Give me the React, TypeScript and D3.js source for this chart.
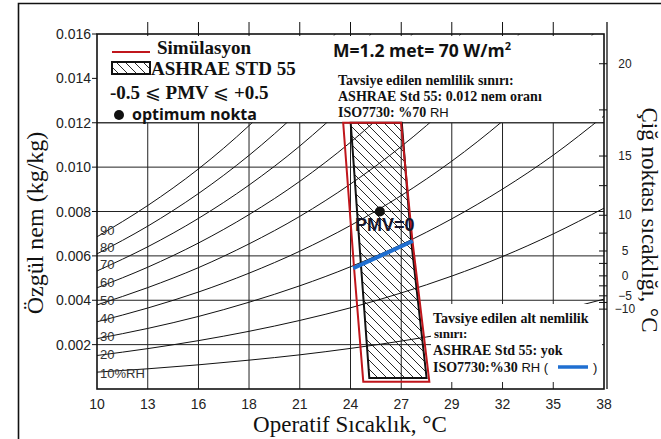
import React from 'react';
import * as d3 from 'd3';

// ---------- data ----------
const tempGrid = [10, 12.78, 15.56, 18.33, 21.11, 23.89, 26.67, 29.44, 32.22, 35, 37.78];
const xTickLabels = ['10', '13', '16', '18', '21', '24', '27', '29', '32', '35', '38'];
const yTicks = [0.002, 0.004, 0.006, 0.008, 0.01, 0.012, 0.014, 0.016];
const yTickLabels = ['0.002', '0.004', '0.006', '0.008', '0.010', '0.012', '0.014', '0.016'];

const rhLevels = ['10%RH', '20', '30', '40', '50', '60', '70', '80', '90'];
const rh10 = [0.00076, 0.00091, 0.00109, 0.0013, 0.00154, 0.00183, 0.00216, 0.00254, 0.00297, 0.00347, 0.00405];
const rh20 = [0.00151, 0.00182, 0.00218, 0.0026, 0.00309, 0.00366, 0.00433, 0.00509, 0.00597, 0.00699, 0.00815];
const rh30 = [0.00227, 0.00273, 0.00327, 0.00391, 0.00465, 0.00551, 0.00651, 0.00767, 0.00901, 0.01054, 0.01231];
const rh40 = [0.00303, 0.00365, 0.00437, 0.00522, 0.00621, 0.00737, 0.00872, 0.01027, 0.01207, 0.01413, 0.01652];
const rh50 = [0.00379, 0.00457, 0.00547, 0.00654, 0.00778, 0.00924, 0.01093, 0.01289, 0.01516, 0.01777];
const rh60 = [0.00456, 0.00549, 0.00658, 0.00786, 0.00936, 0.01112, 0.01316, 0.01553, 0.01827];
const rh70 = [0.00532, 0.00641, 0.00769, 0.00919, 0.01095, 0.01301, 0.01541, 0.01819];
const rh80 = [0.00609, 0.00734, 0.00881, 0.01053, 0.01255, 0.01492, 0.01768];
const rh90 = [0.00686, 0.00827, 0.00992, 0.01187, 0.01415, 0.01683];
const rhSeries = [rh10, rh20, rh30, rh40, rh50, rh60, rh70, rh80, rh90];
const rhLabelW = [0.00072, 0.00155, 0.00238, 0.00318, 0.00398, 0.0048, 0.00559, 0.00636, 0.00714];

const dewLabels = [20, 15, 10, 5, 0, -5, -10];
const dewW = [0.01466, 0.0105, 0.00783, 0.00622, 0.0051, 0.0042, 0.0036];
const dewMinor = [17.5, 12.5, 7.5, 2.5, -2.5, -7.5];

// comfort zones
const simT = [23.49, 24.08, 24.59, 28.21, 27.28, 26.66];
const simW = [0.012, 0.00551, 0.00033, 0.00033, 0.00671, 0.012];
const ashT = [23.9, 24.47, 24.92, 28.06, 27.21, 26.7];
const ashW = [0.012, 0.00551, 0.0005, 0.0005, 0.00671, 0.012];
const isoT = [24.04, 27.3];
const isoW = [0.00544, 0.00667];
const optT = [25.5];
const optW = [0.008];

const serif = "'Liberation Serif', 'Times New Roman', serif";
const sans = "'Liberation Sans', Arial, sans-serif";
const calib = "'Open Sans', 'Noto Sans', sans-serif";

export default function App() {
  const x = d3.scaleLinear().domain([10, 37.78]).range([97, 604]);
  const y = d3.scaleLinear().domain([0, 0.016]).range([389, 34]);
  const dew = d3.scaleLinear().domain(dewLabels).range(dewW);
  const curve = d3
    .line<[number, number]>()
    .x((d) => x(d[0]))
    .y((d) => y(d[1]))
    .curve(d3.curveMonotoneX);
  const poly = d3
    .line<[number, number]>()
    .x((d) => x(d[0]))
    .y((d) => y(d[1]))
    .curve(d3.curveLinearClosed);
  const seg = d3
    .line<[number, number]>()
    .x((d) => x(d[0]))
    .y((d) => y(d[1]));

  const [x0, x1] = x.range();
  const [yb, yt] = y.range();

  const simPts = simT.map((t, i) => [t, simW[i]] as [number, number]);
  const ashPts = ashT.map((t, i) => [t, ashW[i]] as [number, number]);
  const isoPts = isoT.map((t, i) => [t, isoW[i]] as [number, number]);

  return (
    <svg
      width={661}
      height={439}
      style={{ position: 'absolute', left: 0, top: 0, background: '#fff' }}
      xmlns="http://www.w3.org/2000/svg"
    >
      <defs>
        <clipPath id="plotClip">
          <rect x={x0} y={yt} width={x1 - x0} height={yb - yt} />
        </clipPath>
        <pattern id="hatch" width={9} height={9} patternUnits="userSpaceOnUse">
          <path
            d="M-1,-1 L10,10 M-3.25,5.75 L1.25,10.25 M5.75,-3.25 L10.25,1.25"
            stroke="#111"
            strokeWidth={0.9}
          />
        </pattern>
      </defs>
      <rect x={0} y={0} width={661} height={439} fill="#fff" />

      {/* outer frame */}
      <path d="M18.5,439 V3.5 H661" fill="none" stroke="#111" strokeWidth={1.6} />

      {/* grid */}
      <g stroke="#222" strokeWidth={1}>
        {tempGrid.slice(1, -1).map((t, i) => (
          <line key={'vg' + i} x1={x(t)} x2={x(t)} y1={y(0.012)} y2={yb} />
        ))}
        {yTicks.slice(0, 6).map((w, i) => (
          <line key={'hg' + i} x1={x0} x2={x1} y1={y(w)} y2={y(w)} />
        ))}
      </g>

      {/* RH curves */}
      <g clipPath="url(#plotClip)" fill="none" stroke="#111" strokeWidth={1}>
        {rhSeries.map((s, i) => (
          <path key={'rh' + i} d={curve(s.map((w, j) => [tempGrid[j], w] as [number, number])) || ''} />
        ))}
      </g>

      {/* RH labels */}
      <g fontFamily={sans} fontSize={13} fill="#333">
        {rhLevels.map((l, i) => (
          <text key={'rl' + i} x={100} y={y(rhLabelW[i])} dominantBaseline="central">
            {l}
          </text>
        ))}
      </g>

      {/* white boxes */}
      <rect x={x0 + 1} y={yt + 1.5} width={x1 - x0 - 3} height={y(0.012) - yt - 2} fill="#fff" />
      <rect x={431} y={304} width={x1 - 433} height={78} fill="#fff" />
      <line x1={x0} x2={x1} y1={y(0.012)} y2={y(0.012)} stroke="#222" strokeWidth={1} />

      {/* comfort zones */}
      <path d={poly(ashPts) || ''} fill="url(#hatch)" stroke="#111" strokeWidth={2} />
      <path d={poly(simPts) || ''} fill="none" stroke="#c0161c" strokeWidth={2} />
      <path d={seg(isoPts) || ''} stroke="#1f6fd1" strokeWidth={4} fill="none" />
      <circle cx={x(optT[0])} cy={y(optW[0])} r={5} fill="#111" />
      <text x={355} y={231} fontFamily={sans} fontWeight="bold" fontSize={18} fill="#16162c">
        PMV=0
      </text>

      {/* axes */}
      <g stroke="#111" fill="none">
        <rect x={x0} y={yt} width={x1 - x0} height={yb - yt} strokeWidth={1.6} />
        <line x1={x1 + 3} x2={x1 + 3} y1={22} y2={yb} strokeWidth={1.3} />
        {tempGrid.slice(1, -1).map((t, i) => (
          <line key={'tt' + i} x1={x(t)} x2={x(t)} y1={22} y2={yt + 2} strokeWidth={1} />
        ))}
        {yTicks.map((w, i) => (
          <line key={'yt' + i} x1={x0 - 5} x2={x0} y1={y(w)} y2={y(w)} strokeWidth={1} />
        ))}
        {dewLabels.concat(dewMinor).map((d, i) => (
          <line key={'dt' + i} x1={x1 - 5} x2={x1 + 3} y1={y(dew(d))} y2={y(dew(d))} strokeWidth={1} />
        ))}
      </g>

      {/* tick labels */}
      <g fontFamily={sans} fontSize={14} fill="#222">
        {tempGrid.map((t, i) => (
          <text key={'xl' + i} x={x(t)} y={409} textAnchor="middle">
            {xTickLabels[i]}
          </text>
        ))}
        {yTicks.map((w, i) => (
          <text key={'yl' + i} x={91} y={y(w)} textAnchor="end" dominantBaseline="central">
            {yTickLabels[i]}
          </text>
        ))}
      </g>
      <g fontFamily={sans} fontSize={12} fill="#222">
        {dewLabels.map((d, i) => (
          <text key={'dl' + i} x={625} y={y(dewW[i])} textAnchor="middle" dominantBaseline="central">
            {d < 0 ? '\u2212' + Math.abs(d) : String(d)}
          </text>
        ))}
      </g>

      {/* axis titles */}
      <text x={350} y={432} textAnchor="middle" fontFamily={serif} fontSize={23} fill="#111">
        Operatif Sıcaklık, °C
      </text>
      <text
        transform="translate(43,223) rotate(-90)"
        textAnchor="middle"
        fontFamily={serif}
        fontSize={24}
        fill="#111"
      >
        Özgül nem (kg/kg)
      </text>
      <text
        transform="translate(642,220) rotate(90)"
        textAnchor="middle"
        fontFamily={serif}
        fontSize={23}
        fill="#111"
      >
        Çiğ noktası sıcaklığı, °C
      </text>

      {/* legend */}
      <line x1={112} x2={150} y1={52} y2={52} stroke="#c0161c" strokeWidth={2} />
      <text x={157} y={54} fontFamily={serif} fontWeight="bold" fontSize={19} fill="#111">
        Simülasyon
      </text>
      <rect x={112} y={62} width={38} height={12} fill="url(#hatch)" stroke="#111" strokeWidth={2} />
      <text x={151} y={75} fontFamily={serif} fontWeight="bold" fontSize={19} fill="#111">
        ASHRAE STD 55
      </text>
      <text x={110} y={99} fontFamily={serif} fontWeight="bold" fontSize={19} fill="#111">
        -0.5 <tspan fontWeight="normal">⩽</tspan> PMV <tspan fontWeight="normal">⩽</tspan> +0.5
      </text>
      <circle cx={119} cy={115} r={5} fill="#111" />
      <text x={132} y={120} fontFamily={calib} fontWeight="bold" fontSize={16} fill="#111">
        optimum nokta
      </text>

      {/* top-right note */}
      <text x={333} y={57} fontFamily={calib} fontWeight="bold" fontSize={17.5} fill="#111">
        M=1.2 met= 70 W/m
        <tspan dy={-7} fontSize={11}>
          2
        </tspan>
      </text>
      <g fontFamily={serif} fontWeight="bold" fontSize={14} fill="#111">
        <text x={338} y={85}>Tavsiye edilen nemlilik sınırı:</text>
        <text x={338} y={101}>ASHRAE Std 55: 0.012 nem oranı</text>
        <text x={338} y={117}>
          ISO7730: %70
          <tspan fontFamily={sans} fontWeight="normal" fontSize={13}>
            {' '}RH
          </tspan>
        </text>
      </g>

      {/* bottom-right note */}
      <g fontFamily={serif} fontWeight="bold" fontSize={14} fill="#111">
        <text x={433} y={323}>Tavsiye edilen alt nemlilik</text>
        <text x={434} y={338} fontSize={13}>
          sınırı:
        </text>
        <text x={433} y={355}>ASHRAE Std 55: yok</text>
        <text x={433} y={372}>
          ISO7730:%30
          <tspan fontFamily={sans} fontWeight="normal" fontSize={13}>
            {' '}RH (
          </tspan>
        </text>
        <text x={593} y={372} fontFamily={sans} fontWeight="normal" fontSize={13}>
          )
        </text>
      </g>
      <line x1={558} x2={588} y1={367} y2={367} stroke="#1f6fd1" strokeWidth={3.5} />
    </svg>
  );
}
